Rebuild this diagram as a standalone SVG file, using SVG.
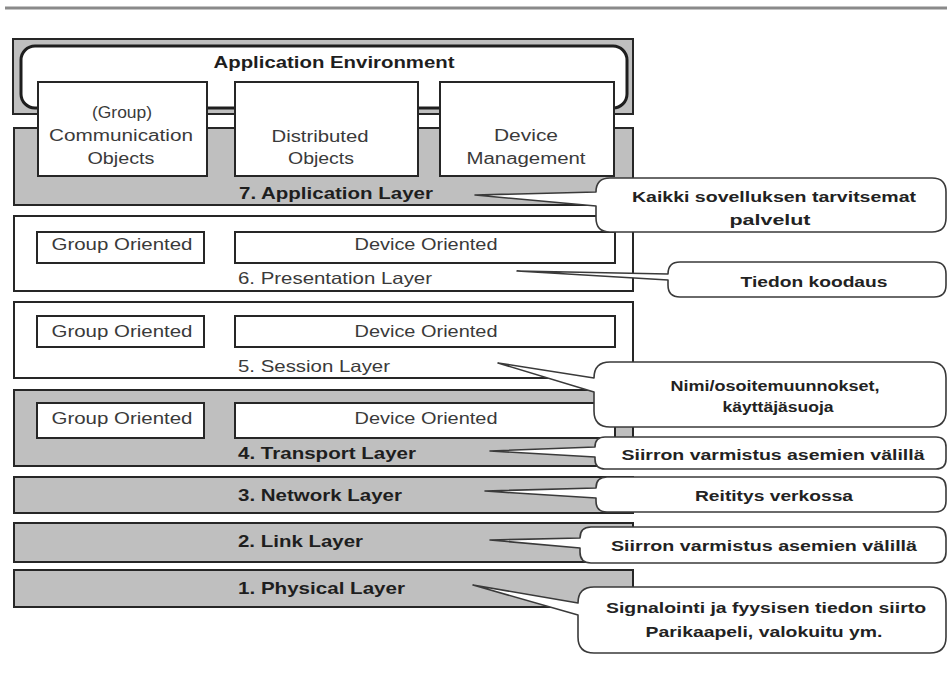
<svg xmlns="http://www.w3.org/2000/svg" width="947" height="681" viewBox="0 0 947 681">
<style>
.gray{fill:#bfbfbf;stroke:#262626;stroke-width:2}
.white{fill:#ffffff;stroke:#262626;stroke-width:2}
.bubble{fill:#ffffff;stroke:#3a3a3a;stroke-width:1.6;stroke-linejoin:round}
text{font-family:"Liberation Sans",Arial,sans-serif}
.t{font-size:16px;fill:#3a3a3a;text-anchor:middle}
.lb{font-size:16.5px;font-weight:bold;fill:#1e1e1e}
.lr{font-size:16.5px;fill:#3a3a3a}
.c{font-size:14.5px;font-weight:bold;fill:#222;text-anchor:middle}
</style>
<rect width="947" height="681" fill="#ffffff"/>
<line x1="5" y1="8" x2="947" y2="8" stroke="#8a8a8a" stroke-width="3"/>

<g id="app-environment">
<rect class="gray" x="13" y="39" width="620" height="75"/>
<rect x="21" y="46" width="606" height="62" rx="14" fill="#ffffff" stroke="#1e1e1e" stroke-width="3"/>
<text x="334" y="68" font-size="16" font-weight="bold" fill="#1e1e1e" text-anchor="middle" textLength="241" lengthAdjust="spacingAndGlyphs">Application Environment</text>
</g>

<g id="layer7">
<rect class="gray" x="14" y="128" width="619" height="77"/>
<text class="lb" x="239" y="199" textLength="194" lengthAdjust="spacingAndGlyphs">7. Application Layer</text>
</g>

<g id="comm-objects">
<rect class="white" x="38" y="82" width="169" height="94"/>
<text class="t" x="122" y="118" textLength="60" lengthAdjust="spacingAndGlyphs">(Group)</text>
<text class="t" x="121" y="141" textLength="144" lengthAdjust="spacingAndGlyphs">Communication</text>
<text class="t" x="121" y="164" textLength="67" lengthAdjust="spacingAndGlyphs">Objects</text>
</g>
<g id="distributed-objects">
<rect class="white" x="235" y="82" width="183" height="94"/>
<text class="t" x="320" y="142" textLength="97" lengthAdjust="spacingAndGlyphs">Distributed</text>
<text class="t" x="321" y="164" textLength="66" lengthAdjust="spacingAndGlyphs">Objects</text>
</g>
<g id="device-management">
<rect class="white" x="440" y="82" width="174" height="94"/>
<text class="t" x="526" y="141" textLength="64" lengthAdjust="spacingAndGlyphs">Device</text>
<text class="t" x="526" y="164" textLength="119" lengthAdjust="spacingAndGlyphs">Management</text>
</g>

<g id="layer6">
<rect class="white" x="14" y="216" width="619" height="75"/>
<rect class="white" x="37" y="232" width="167" height="31"/>
<text class="t" x="122" y="250" textLength="141" lengthAdjust="spacingAndGlyphs">Group Oriented</text>
<rect class="white" x="235" y="232" width="380" height="31"/>
<text class="t" x="426" y="250" textLength="143" lengthAdjust="spacingAndGlyphs">Device Oriented</text>
<text class="lr" x="238" y="284" textLength="194" lengthAdjust="spacingAndGlyphs">6. Presentation Layer</text>
</g>

<g id="layer5">
<rect class="white" x="14" y="302" width="619" height="76"/>
<rect class="white" x="37" y="316" width="167" height="31"/>
<text class="t" x="122" y="337" textLength="141" lengthAdjust="spacingAndGlyphs">Group Oriented</text>
<rect class="white" x="235" y="316" width="380" height="31"/>
<text class="t" x="426" y="337" textLength="143" lengthAdjust="spacingAndGlyphs">Device Oriented</text>
<text class="lr" x="238" y="372" textLength="152" lengthAdjust="spacingAndGlyphs">5. Session Layer</text>
</g>

<g id="layer4">
<rect class="gray" x="14" y="390" width="619" height="76"/>
<rect class="white" x="37" y="403" width="167" height="35"/>
<text class="t" x="122" y="424" textLength="141" lengthAdjust="spacingAndGlyphs">Group Oriented</text>
<rect class="white" x="235" y="403" width="380" height="35"/>
<text class="t" x="426" y="424" textLength="143" lengthAdjust="spacingAndGlyphs">Device Oriented</text>
<text class="lb" x="238" y="459" textLength="178" lengthAdjust="spacingAndGlyphs">4. Transport Layer</text>
</g>

<g id="layer3">
<rect class="gray" x="14" y="477" width="619" height="36"/>
<text class="lb" x="238" y="501" textLength="164" lengthAdjust="spacingAndGlyphs">3. Network Layer</text>
</g>

<g id="layer2">
<rect class="gray" x="14" y="523" width="619" height="39"/>
<text class="lb" x="238" y="547" textLength="125" lengthAdjust="spacingAndGlyphs">2. Link Layer</text>
</g>

<g id="layer1">
<rect class="gray" x="14" y="570" width="619" height="37"/>
<text class="lb" x="238" y="594" textLength="167" lengthAdjust="spacingAndGlyphs">1. Physical Layer</text>
</g>

<g id="connectors">
</g>

<g id="callout1">
<path class="bubble" d="M610,178 H932 Q946,178 946,192 V218 Q946,232 932,232 H610 Q596,232 596,218 V206 L475,195 L596,192 Q596,178 610,178 Z"/>
<text class="c" x="774" y="202" textLength="284" lengthAdjust="spacingAndGlyphs">Kaikki sovelluksen tarvitsemat</text>
<text class="c" x="770" y="225" textLength="81" lengthAdjust="spacingAndGlyphs">palvelut</text>
</g>
<g id="callout2">
<path class="bubble" d="M680,262 H934 Q946,262 946,274 V285 Q946,297 934,297 H680 Q668,297 668,285 V280 L517,271 L668,274 Q668,262 680,262 Z"/>
<text class="c" x="814" y="287" textLength="147" lengthAdjust="spacingAndGlyphs">Tiedon koodaus</text>
</g>
<g id="callout3">
<path class="bubble" d="M610,362 H930 Q946,362 946,378 V411 Q946,427 930,427 H610 Q594,427 594,411 V392 L498,363 L594,378 Q594,362 610,362 Z"/>
<text class="c" x="775" y="391" textLength="209" lengthAdjust="spacingAndGlyphs">Nimi/osoitemuunnokset,</text>
<text class="c" x="778" y="412" textLength="111" lengthAdjust="spacingAndGlyphs">käyttäjäsuoja</text>
</g>
<g id="callout4">
<path class="bubble" d="M605,437 H936 Q946,437 946,447 V459 Q946,469 936,469 H605 Q595,469 595,459 V457 L490,451 L595,447 Q595,437 605,437 Z"/>
<text class="c" x="773" y="460" textLength="303" lengthAdjust="spacingAndGlyphs">Siirron varmistus asemien välillä</text>
</g>
<g id="callout5">
<path class="bubble" d="M607,477 H935 Q946,477 946,488 V501 Q946,512 935,512 H607 Q596,512 596,501 V498 L485,491 L596,488 Q596,477 607,477 Z"/>
<text class="c" x="774" y="501" textLength="158" lengthAdjust="spacingAndGlyphs">Reititys verkossa</text>
</g>
<g id="callout6">
<path class="bubble" d="M591,527 H935 Q946,527 946,538 V552 Q946,563 935,563 H591 Q580,563 580,552 V548 L490,540 L580,538 Q580,527 591,527 Z"/>
<text class="c" x="764" y="551" textLength="306" lengthAdjust="spacingAndGlyphs">Siirron varmistus asemien välillä</text>
</g>
<g id="callout7">
<path class="bubble" d="M594,587 H930 Q946,587 946,603 V637 Q946,653 930,653 H594 Q578,653 578,637 V615 L473,585 L578,603 Q578,587 594,587 Z"/>
<text class="c" x="766" y="613" textLength="320" lengthAdjust="spacingAndGlyphs">Signalointi ja fyysisen tiedon siirto</text>
<text class="c" x="764" y="637" textLength="237" lengthAdjust="spacingAndGlyphs">Parikaapeli, valokuitu ym.</text>
</g>
</svg>
